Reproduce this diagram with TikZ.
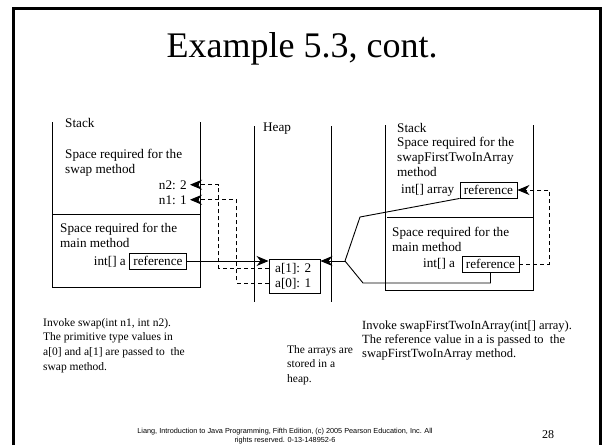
\documentclass[tikz,border=0pt]{standalone}
\usepackage{fontspec}
\setmainfont{Liberation Serif}
\newfontfamily\footfont{Liberation Sans}
\usetikzlibrary{arrows.meta}
\tikzset{
  txt/.style={inner sep=0pt,font=\fontsize{13.2}{14.8}\selectfont},
  para/.style={txt,align=left,anchor=north west},
  note/.style={para,font=\fontsize{11.5}{14.7}\selectfont},
  refbox/.style={draw,line width=0.9pt,font=\fontsize{13.2}{14.8}\selectfont,minimum width=57pt,minimum height=16pt,inner sep=0.5pt},
  wall/.style={line width=0.9pt},
  link/.style={line width=0.9pt,-{Stealth[length=12pt,width=10pt]}},
  dlink/.style={link,dash pattern=on 4pt off 3pt},
}

\begin{document}
\begin{tikzpicture}[x=1pt,y=-1pt]
      \useasboundingbox (0,0) rectangle (602,445);
      \draw[line width=3pt] (13.5,445) -- (13.5,8) -- (600,8) -- (600,445);
      \node (title) at (302,57) [anchor=base,inner sep=0pt,font=\fontsize{36}{40}\selectfont] {Example 5.3, cont.};

      % left stack
      \draw[wall] (52,122) -- (52,287) -- (200,287) -- (200,122);
      \draw[wall] (52,214) -- (200,214);
      \node (stackL) at (65,127) [txt,anchor=base west] {Stack};
      \node (swapTxt) at (65,149) [para] {Space required for the\\swap method};
      \node (n2) at (190,189) [txt,inner xsep=3pt,anchor=base east] {n2: 2};
      \node (n1) at (190,204) [txt,inner xsep=3pt,anchor=base east] {n1: 1};
      \node (mainL) at (60,223) [para] {Space required for the\\main method};
      \node (intA) at (126,265) [txt,anchor=base east] {int[] a};
      \node (refA) at (158,261) [refbox] {reference};

      % heap
      \draw[wall] (254,126) -- (254,302);
      \draw[wall] (331,126) -- (331,302);
      \node (heapL) at (263,131) [txt,anchor=base west] {Heap};
      \node (heapbox) at (294.5,276) [draw,line width=0.9pt,minimum width=51pt,minimum height=34pt] {};
      \node (a1) at (275,272) [txt,anchor=base west] {a[1]: 2};
      \node (a0) at (275,287) [txt,anchor=base west] {a[0]: 1};

      % right stack
      \draw[wall] (385,125) -- (385,290) -- (533,290) -- (533,125);
      \draw[wall] (387,217) -- (533,217);
      \node (stackR) at (397,132) [txt,anchor=base west] {Stack};
      \node (arrTxt) at (397,137) [para] {Space required for the\\swapFirstTwoInArray\\method};
      \node (intArr) at (401,193) [txt,anchor=base west] {int[] array};
      \node (refArr) at (488.5,190) [refbox] {reference};
      \node (mainR) at (392,227) [para] {Space required for the\\main method};
      \node (intAR) at (423,267) [txt,anchor=base west] {int[] a};
      \node (refMain) at (490.5,264) [refbox] {reference};
      \coordinate (split) at (345,261);

      % connectors
      \draw[link] (refA.east) -- (refA.east -| heapbox.west);
      \draw[dlink] (heapbox.west |- a1.west) -- ++(-50,0) |- (n2.east);
      \draw[dlink] (heapbox.west |- a0.west) -- ++(-32,0) |- (n1.east);
      \draw[link] (split) -- (split -| heapbox.east);
      \draw[wall] (split) -- (360,217) -- (refArr.south west);
      \draw[wall] (split) -- (363,283) -| (refMain.south);
      \draw[dlink] (refMain.east) -- ++(30,0) |- (refArr.east);

      % notes
      \node (noteL) at (43,318) [note] {Invoke swap(int n1, int n2).\\The primitive type values in\\a[0] and a[1] are passed to\ \ the\\swap method.};
      \node (noteM) at (287,345) [note] {The arrays are\\stored in a\\heap.};
      \node (noteR) at (362,320.5) [note,font=\fontsize{12.5}{14.3}\selectfont] {Invoke swapFirstTwoInArray(int[] array).\\The reference value in a is passed to\ \ the\\swapFirstTwoInArray method.};

      \node (foot) at (285,428) [anchor=north,inner sep=0pt,align=center,font=\footfont\fontsize{7.3}{8.8}\selectfont] {Liang, Introduction to Java Programming, Fifth Edition, (c) 2005 Pearson Education, Inc. All\\rights reserved. 0-13-148952-6};
      \node (page) at (548,435) [inner sep=0pt,font=\fontsize{12}{14}\selectfont] {28};
\end{tikzpicture}
\end{document}
